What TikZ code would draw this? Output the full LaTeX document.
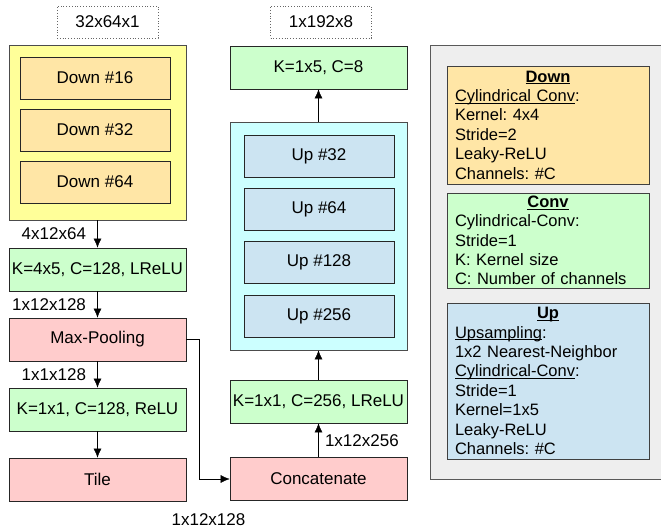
\documentclass[tikz,border=0pt]{standalone}
\usepackage{fontspec}
\setmainfont{Liberation Sans}
\usetikzlibrary{arrows.meta}
\frenchspacing
\newcommand\undl[1]{\leavevmode\setbox0\hbox{#1}\rlap{\rule[-2.2pt]{\wd0}{.9pt}}\box0}
\definecolor{grpY}{HTML}{FFFF99}
\definecolor{dnO}{HTML}{FFE6A6}
\definecolor{cvG}{HTML}{CCFFCC}
\definecolor{opR}{HTML}{FFCCCC}
\definecolor{grpC}{HTML}{CCFFFF}
\definecolor{upB}{HTML}{CCE4F2}
\definecolor{legG}{HTML}{EEEEEE}
\begin{document}
\begin{tikzpicture}[>={Latex[length=9pt,width=8pt]},x=1pt,y=-1pt,
    font=\fontsize{17}{19.4}\selectfont,
    blk/.style={draw=black!85,line width=.8pt,minimum width=177pt,minimum height=43pt,inner sep=0pt},
    sub/.style={draw=black!85,line width=.8pt,minimum width=150pt,minimum height=42pt,inner sep=0pt},
    dim/.style={draw=black!60,dotted,line width=.8pt,minimum width=101pt,minimum height=32pt,inner sep=0pt},
    leg/.style={draw=black!75,line width=.8pt,text width=186pt,align=left,inner xsep=8pt,inner ysep=0pt,
      font=\fontsize{16.5}{19.4}\selectfont},
    lbl/.style={inner sep=0pt}]
\useasboundingbox (0,0) rectangle (661,529);
\node[dim] (in) at (107.5,22) {32x64x1};
\node[blk,fill=grpY,minimum height=175pt,draw=black!70] (down) at (97.5,132.5) {};
\node[sub,fill=dnO] (d16) at (95,78) {Down \#16};
\node[sub,fill=dnO] (d32) at (95,130) {Down \#32};
\node[sub,fill=dnO] (d64) at (95,182) {Down \#64};
\node[blk,fill=cvG] (convA) at (97.5,269.5) {K=4x5, C=128, LReLU};
\node[blk,fill=opR] (pool) at (97.5,339.5) {Max-Pooling};
\node[blk,fill=cvG] (convB) at (97.5,409.5) {K=1x1, C=128, ReLU};
\node[blk,fill=opR] (tile) at (97.5,479.5) {Tile};
\node[dim] (out) at (321,22) {1x192x8};
\node[blk,fill=cvG] (convOut) at (318.5,67.5) {K=1x5, C=8};
\node[blk,fill=grpC,minimum height=228pt,draw=black!70] (up) at (318.5,236) {};
\node[sub,fill=upB] (u32) at (319,156) {Up \#32};
\node[sub,fill=upB] (u64) at (319,209) {Up \#64};
\node[sub,fill=upB] (u128) at (319,262) {Up \#128};
\node[sub,fill=upB] (u256) at (319,316) {Up \#256};
\node[blk,fill=cvG] (convC) at (318.5,401.5) {K=1x1, C=256, LReLU};
\node[blk,fill=opR] (concat) at (318.5,479) {Concatenate};
\node[lbl] (tl) at (208.5,520) {1x12x128};
\draw[->] (down) -- (convA) node[midway,left=8pt]{4x12x64};
\draw[->] (convA) -- (pool) node[midway,left=8pt]{1x12x128};
\draw[->] (pool) -- (convB) node[midway,left=8pt]{1x1x128};
\draw[->] (convB) -- (tile);
\draw[->] (pool.east) -- ++(13,0) |- (concat.west);
\draw[->] (concat) -- (convC) node[midway,right=3pt]{1x12x256};
\draw[->] (convC) -- (up);
\draw[->] (up) -- (convOut);
\node[draw=black!65,fill=legG,line width=1pt,minimum width=245pt,minimum height=434pt,anchor=north west] (legend) at (430,45) {};
\node[leg,fill=dnO,minimum height=118pt] (legDown) at (548,125) {\makebox[186pt]{\textbf{\undl{Down}}}\\
  \undl{Cylindrical Conv}:\\ Kernel: 4x4\\ Stride=2\\ Leaky-ReLU\\ Channels: \#C};
\node[leg,fill=cvG,minimum height=95pt] (legConv) at (548,240.5) {\makebox[186pt]{\textbf{\undl{Conv}}}\\
  Cylindrical-Conv:\\ Stride=1\\ K: Kernel size\\ C: Number of channels};
\node[leg,fill=upB,minimum height=156pt] (legUp) at (548,381) {\makebox[186pt]{\textbf{\undl{Up}}}\\
  \undl{Upsampling}:\\ 1x2 Nearest-Neighbor\\ \undl{Cylindrical-Conv}:\\ Stride=1\\ Kernel=1x5\\ Leaky-ReLU\\ Channels: \#C};
\end{tikzpicture}
\end{document}
